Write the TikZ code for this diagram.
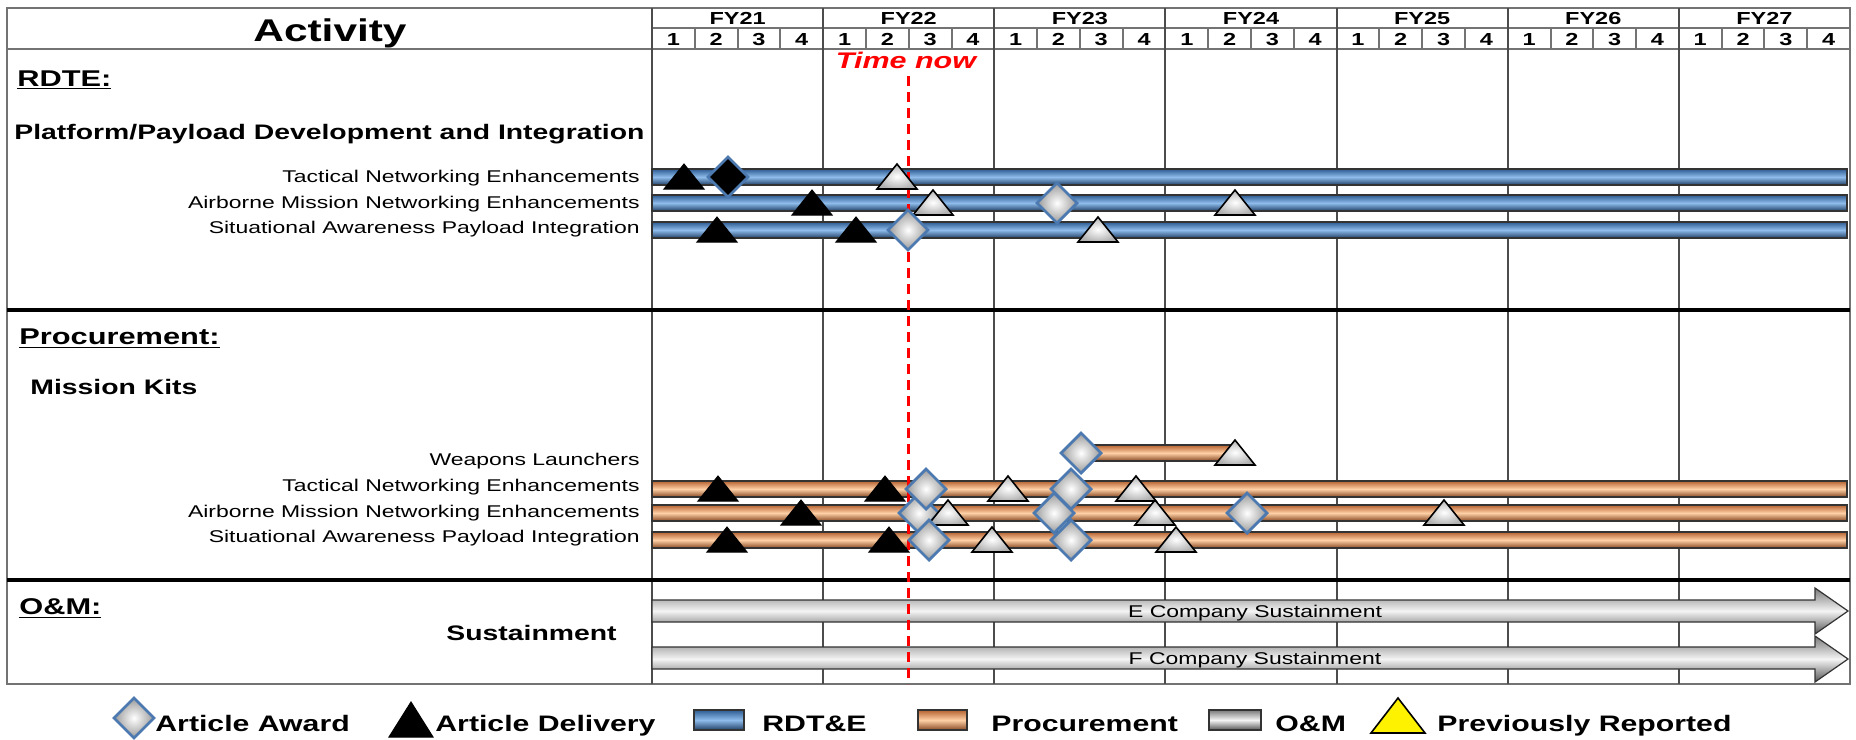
\documentclass[tikz,border=0pt]{standalone}
\usepackage{fontspec}
\setmainfont{Liberation Sans}[FakeStretch=1.35]
\usetikzlibrary{positioning}

\definecolor{rdtedark}{HTML}{2E5C93}
\definecolor{rdtelight}{HTML}{8FBCEB}
\definecolor{procdark}{HTML}{B5622F}
\definecolor{proclight}{HTML}{FFD0A6}
\definecolor{omdark}{HTML}{7A7A7A}
\definecolor{omlight}{HTML}{F4F4F4}
\definecolor{awardblue}{HTML}{4C7AB0}

\tikzset{
  diam/.pic={\path[pic actions] (0,-20) -- (20,0) -- (0,20) -- (-20,0) -- cycle;},
  tri/.pic={\path[pic actions] (0,-13) -- (20,12) -- (-20,12) -- cycle;},
}

\begin{document}
\begin{tikzpicture}[x=0.5pt, y=-0.5pt,
  hdrline/.style={draw=black!55, line width=1pt},
  yearline/.style={draw=black!70, line width=1pt},
  sectline/.style={draw=black, line width=2pt},
  rdtebar/.style={draw=black!80, line width=0.6pt, top color=rdtedark, bottom color=rdtedark!70!black, middle color=rdtelight},
  procbar/.style={draw=black!80, line width=0.6pt, top color=procdark, bottom color=procdark!75!black, middle color=proclight},
  ombar/.style={draw=black!80, line width=0.6pt, top color=omdark, bottom color=omdark!70!black, middle color=omlight},
  award/.style={draw=awardblue, line width=1.4pt, inner color=white, outer color=black!40},
  awarddone/.style={draw=awardblue, line width=1.4pt, fill=black},
  deliv/.style={draw=black, line width=0.5pt, fill=black},
  prior/.style={draw=black, line width=0.8pt, inner color=white, outer color=black!30},
  nowline/.style={draw=red, line width=1.5pt, dash pattern=on 5pt off 3pt},
  hdr/.style={font=\bfseries\fontsize{8.7}{10}\selectfont, inner sep=0, anchor=base},
  sect/.style={font=\bfseries\fontsize{11.4}{13}\selectfont, inner sep=0, anchor=base west},
  sub/.style={font=\bfseries\fontsize{10.5}{12}\selectfont, inner sep=0},
  item/.style={font=\fontsize{8.5}{10}\selectfont, inner sep=0, anchor=base east},
  keytext/.style={font=\bfseries\fontsize{11.2}{13}\selectfont, inner sep=0, anchor=base west},
]
\useasboundingbox (0,0) rectangle (1856,739);

% header
\node[font=\bfseries\fontsize{15.7}{18}\selectfont, inner sep=0, anchor=base] (act) at (330,41) {Activity};
\foreach \yr [evaluate=\yr as \fy using int(21+\yr)] in {0,...,6} {
  \node[hdr] (fy\yr) at ({652+171.14*(\yr+0.5)},25) {FY\fy};
  \foreach \q in {1,...,4}
    \node[hdr] (q\yr\q) at ({652+171.14*\yr+42.79*(\q-0.5)},45) {\q};
  \foreach \q in {1,2,3}
    \draw[hdrline] ({652+171.14*\yr+42.79*\q},28) -- ++(0,21);
}
\draw[hdrline] (652,28) -- (1850,28);
\draw[hdrline] (7,49) -- (1850,49);

% grid
\draw[hdrline] (7,8) rectangle (1850,684);
\foreach \yr in {0,...,6}
  \draw[yearline] ({652+171.14*\yr},8) -- ({652+171.14*\yr},684);
\draw[sectline] (7,310) -- (1850,310);
\draw[sectline] (7,580) -- (1850,580);

% left column
\node[sect] (rdte) at (17,86) {\underline{RDTE:}};
\node[sub, anchor=base west] (plat) at (14,139) {Platform/Payload Development and Integration};
\node[item] (r1) at (640,182) {Tactical Networking Enhancements};
\node[item] (r2) at (640,208) {Airborne Mission Networking Enhancements};
\node[item] (r3) at (640,233) {Situational Awareness Payload Integration};

\node[sect] (proc) at (19,344) {\underline{Procurement:}};
\node[sub, anchor=base west] (kits) at (30,394) {Mission Kits};
\node[item] (p0) at (640,465) {Weapons Launchers};
\node[item] (p1) at (640,491) {Tactical Networking Enhancements};
\node[item] (p2) at (640,517) {Airborne Mission Networking Enhancements};
\node[item] (p3) at (640,542) {Situational Awareness Payload Integration};

\node[sect] (om) at (19,614) {\underline{O\&M:}};
\node[sub, anchor=base east] (sust) at (617,640) {Sustainment};

% bars
\foreach \y in {177,203,230}
  \path[rdtebar] (652,\y-8) rectangle (1847,\y+8);
\path[procbar] (1081,445) rectangle (1235,461);
\foreach \y in {489,513,540}
  \path[procbar] (652,\y-8) rectangle (1847,\y+8);
\path[ombar] (652,600) -- (1815,600) -- (1815,588) -- (1848,611) -- (1815,634) -- (1815,622) -- (652,622) -- cycle;
\path[ombar] (652,647) -- (1815,647) -- (1815,636) -- (1848,659) -- (1815,682) -- (1815,669) -- (652,669) -- cycle;
\node[font=\fontsize{8.5}{10}\selectfont, inner sep=0, anchor=base] (esus) at (1255,617) {E Company Sustainment};
\node[font=\fontsize{8.5}{10}\selectfont, inner sep=0, anchor=base] (fsus) at (1255,664) {F Company Sustainment};

% time now
\node[font=\bfseries\itshape\fontsize{11.3}{13}\selectfont, text=red, inner sep=0, anchor=base] (tnow) at (906,68) {Time now};
\coordinate (nowtop) at (908,76);
\coordinate (nowbot) at (908,684);
\draw[nowline] (nowtop) -- (nowbot);

% RDTE milestones
\pic[deliv] at (684,177) {tri};
\pic[awarddone] at (728,177) {diam};
\pic[prior] at (897,177) {tri};
\foreach \x in {812} \pic[deliv] at (\x,203) {tri};
\foreach \x in {933,1235} \pic[prior] at (\x,203) {tri};
\pic[award] at (1057,203) {diam};
\foreach \x in {717,856} \pic[deliv] at (\x,230) {tri};
\pic[award] at (908,230) {diam};
\pic[prior] at (1098,230) {tri};

% procurement milestones
\pic[award] at (1081,453) {diam};
\pic[prior] at (1235,453) {tri};
\pic[deliv] at (801,513) {tri};
\foreach \x in {919,1054,1247} \pic[award] at (\x,513) {diam};
\foreach \x in {948,1155,1444} \pic[prior] at (\x,513) {tri};
\foreach \x in {718,885} \pic[deliv] at (\x,489) {tri};
\foreach \x in {926,1071} \pic[award] at (\x,489) {diam};
\foreach \x in {1008,1136} \pic[prior] at (\x,489) {tri};
\foreach \x in {727,889} \pic[deliv] at (\x,540) {tri};
\foreach \x in {929,1071} \pic[award] at (\x,540) {diam};
\foreach \x in {992,1176} \pic[prior] at (\x,540) {tri};

% legend
\pic[award] at (134,718) {diam};
\node[keytext] (kaward) at (155,731) {Article Award};
\path[deliv] (411,702) -- (433,737) -- (389,737) -- cycle;
\node[keytext] (kdeliv) at (435,731) {Article Delivery};
\path[rdtebar, line width=1pt] (694,710) rectangle (744,730);
\node[keytext] (krdte) at (762,731) {RDT\&E};
\path[procbar, line width=1pt] (918,710) rectangle (967,730);
\node[keytext] (kproc) at (991,731) {Procurement};
\path[ombar, line width=1pt] (1209,710) rectangle (1261,730);
\node[keytext] (kom) at (1275,731) {O\&M};
\path[draw=black, line width=0.8pt, fill=yellow] (1398,698) -- (1425,733) -- (1371,733) -- cycle;
\node[keytext] (kprev) at (1437,731) {Previously Reported};
\end{tikzpicture}
\end{document}
